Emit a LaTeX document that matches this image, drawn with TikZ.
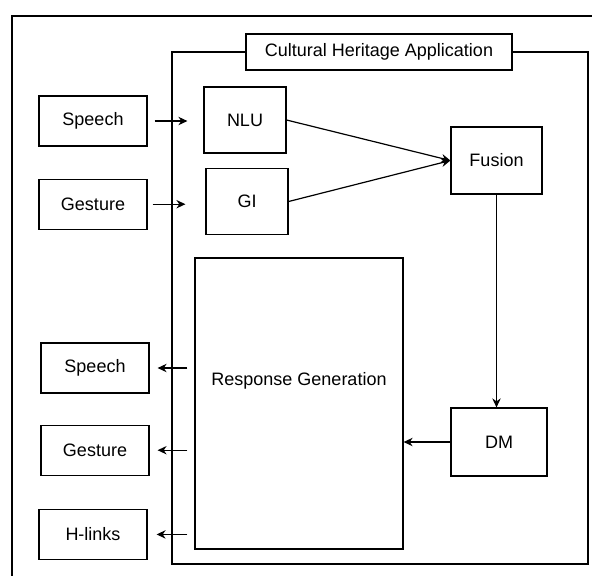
\documentclass[tikz,border=0pt]{standalone}
\usepackage{fontspec}
\setmainfont{Liberation Sans}
\usetikzlibrary{arrows.meta,positioning}

\begin{document}
\begin{tikzpicture}[x=0.5pt, y=-0.5pt,
    font=\fontsize{9}{11}\selectfont,
    block/.style={rectangle, draw, line width=0.6pt, minimum width=54pt, minimum height=25pt, inner sep=1pt},
    module/.style={rectangle, draw, line width=0.6pt, minimum width=41pt, minimum height=33pt, inner sep=1pt},
    arrow/.style={-{Stealth[length=4.5pt,width=4.2pt]}, line width=0.6pt}]

    \clip (0,0) rectangle (592,575);
    \fill[white] (0,0) rectangle (592,575);

    % frames
    \draw[line width=1.3pt] (12,600) -- (12,16) -- (620,16);
    \draw[line width=0.6pt] (172,52) rectangle (588,564);
    \node[draw, fill=white, line width=0.6pt, minimum width=133pt, minimum height=18pt] (app) at (379,52) {Cultural Heritage Application};

    % inputs
    \node[block] (speechIn) at (93,121) {Speech};
    \node[block, below=16pt of speechIn] (gestureIn) {Gesture};

    % modules
    \node[module] (nlu) at (245,120) {NLU};
    \node[module] (gi) at (247,201.5) {GI};
    \node[module, minimum width=45.5pt, minimum height=33.5pt] (fusion) at (496.5,160.5) {Fusion};
    \node[module, minimum width=48pt, minimum height=34pt] (dm) at (499,442) {DM};
    \node[module, minimum width=104pt, minimum height=145.5pt, text height=6.5pt, text depth=25pt] (rg) at (299,403.5) {Response Generation};

    % outputs
    \node[block] (speechOut) at (95,368) {Speech};
    \node[block, below=15.5pt of speechOut] (gestureOut) {Gesture};
    \node[block, below=16.5pt of gestureOut, xshift=-1pt] (hlinks) {H-links};

    \draw[arrow, shorten <=3.5pt, shorten >=8pt] (speechIn.east) -- (speechIn.east -| nlu.west);
    \draw[arrow, shorten <=2.5pt, shorten >=10pt] (gestureIn.east) -- (gestureIn.east -| gi.west);
    \draw[arrow] (nlu.east) -- (fusion.west);
    \draw[arrow] (gi.east) -- (fusion.west);
    \draw[arrow] (fusion.south) -- (fusion.south |- dm.north);
    \draw[arrow] (dm.west) -- (dm.west -| rg.east);
    \draw[arrow, shorten <=3.5pt, shorten >=4pt] (speechOut.east -| rg.west) -- (speechOut.east);
    \draw[arrow, shorten <=3.5pt, shorten >=4pt] (gestureOut.east -| rg.west) -- (gestureOut.east);
    \draw[arrow, shorten <=3.5pt, shorten >=4.5pt] (hlinks.east -| rg.west) -- (hlinks.east);
\end{tikzpicture}
\end{document}
